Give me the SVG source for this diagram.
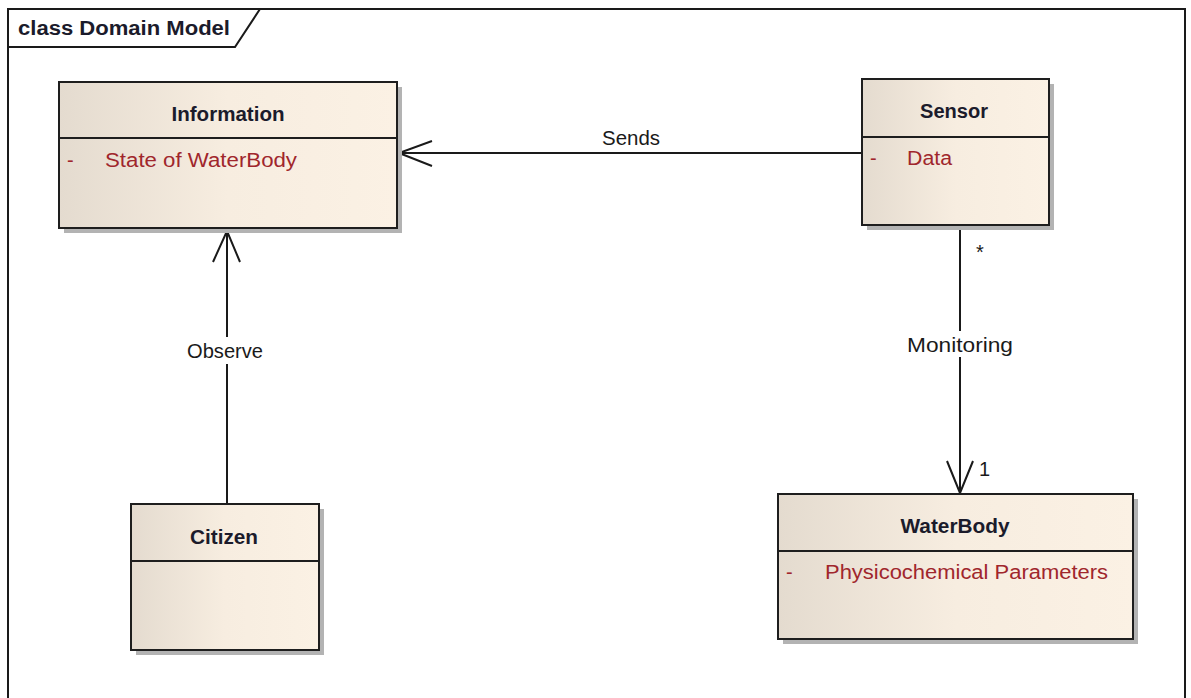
<svg xmlns="http://www.w3.org/2000/svg" width="1191" height="698" viewBox="0 0 1191 698">
  <defs>
    <linearGradient id="classFill" x1="0" y1="0" x2="1" y2="0">
      <stop offset="0" stop-color="#e4dbcf"/>
      <stop offset="0.5" stop-color="#f7ede0"/>
      <stop offset="1" stop-color="#fbf1e4"/>
    </linearGradient>
  </defs>
  <style>
    .frame { fill: none; stroke: #1a1a1a; stroke-width: 2; }
    .shadow { fill: #b3b3b3; }
    .box { fill: url(#classFill); stroke: #1e1e1e; stroke-width: 2; }
    .divider { stroke: #1e1e1e; stroke-width: 2; }
    .title { font-family: "Liberation Sans", Arial, sans-serif; font-size: 20px; font-weight: bold; fill: #1b1b2b; }
    .attr { font-family: "Liberation Sans", Arial, sans-serif; font-size: 20px; fill: #a0262c; }
    .label { font-family: "Liberation Sans", Arial, sans-serif; font-size: 20px; fill: #1a1a1a; }
    .edge { fill: none; stroke: #1a1a1a; stroke-width: 2; }
  </style>
  <rect width="1191" height="698" fill="#ffffff"/>

  <!-- diagram frame with name tab -->
  <g id="frame">
    <path class="frame" d="M8,705 V9 H1185 V705"/>
    <path class="frame" d="M8,47 H235 L260,9"/>
    <text class="title" x="18" y="35" fill="#111" textLength="212" lengthAdjust="spacingAndGlyphs">class Domain Model</text>
  </g>

  <!-- associations -->
  <g id="connectors">
    <g id="sends">
      <line class="edge" x1="862" y1="153" x2="399" y2="153"/>
      <polyline class="edge" points="432,141 399,153 432,166"/>
      <text class="label" x="602" y="145" textLength="58" lengthAdjust="spacingAndGlyphs">Sends</text>
    </g>
    <g id="observe">
      <line class="edge" x1="227" y1="504" x2="227" y2="364"/>
      <line class="edge" x1="227" y1="337" x2="227" y2="231"/>
      <polyline class="edge" points="213,262 227,231 240,262"/>
      <text class="label" x="187" y="358" textLength="76" lengthAdjust="spacingAndGlyphs">Observe</text>
    </g>
    <g id="monitoring">
      <line class="edge" x1="960" y1="225" x2="960" y2="331"/>
      <line class="edge" x1="960" y1="357" x2="960" y2="493"/>
      <polyline class="edge" points="947,461 960,493 973,461"/>
      <text class="label" x="907" y="352" textLength="106" lengthAdjust="spacingAndGlyphs">Monitoring</text>
      <text class="label" x="976" y="259" font-size="17">*</text>
      <text class="label" x="979" y="476" font-size="18">1</text>
    </g>
  </g>

  <!-- classes -->
  <g id="information">
    <rect class="shadow" x="64" y="87" width="338" height="146"/>
    <rect class="box" x="59" y="82" width="338" height="146"/>
    <line class="divider" x1="59" y1="138" x2="397" y2="138"/>
    <text class="title" x="228" y="121" text-anchor="middle" textLength="113" lengthAdjust="spacingAndGlyphs">Information</text>
    <text class="attr" x="67" y="167">-</text>
    <text class="attr" x="105" y="167" textLength="192" lengthAdjust="spacingAndGlyphs">State of WaterBody</text>
  </g>

  <g id="sensor">
    <rect class="shadow" x="867" y="84" width="187" height="146"/>
    <rect class="box" x="862" y="79" width="187" height="146"/>
    <line class="divider" x1="862" y1="137" x2="1049" y2="137"/>
    <text class="title" x="954" y="118" text-anchor="middle" textLength="68" lengthAdjust="spacingAndGlyphs">Sensor</text>
    <text class="attr" x="870" y="165">-</text>
    <text class="attr" x="907" y="165" textLength="45" lengthAdjust="spacingAndGlyphs">Data</text>
  </g>

  <g id="citizen">
    <rect class="shadow" x="136" y="509" width="188" height="146"/>
    <rect class="box" x="131" y="504" width="188" height="146"/>
    <line class="divider" x1="131" y1="561" x2="319" y2="561"/>
    <text class="title" x="224" y="544" text-anchor="middle" textLength="68" lengthAdjust="spacingAndGlyphs">Citizen</text>
  </g>

  <g id="waterbody">
    <rect class="shadow" x="783" y="499" width="355" height="145"/>
    <rect class="box" x="778" y="494" width="355" height="145"/>
    <line class="divider" x1="778" y1="551" x2="1133" y2="551"/>
    <text class="title" x="955" y="533" text-anchor="middle" textLength="109" lengthAdjust="spacingAndGlyphs">WaterBody</text>
    <text class="attr" x="786" y="579">-</text>
    <text class="attr" x="825" y="579" textLength="283" lengthAdjust="spacingAndGlyphs">Physicochemical Parameters</text>
  </g>
</svg>
